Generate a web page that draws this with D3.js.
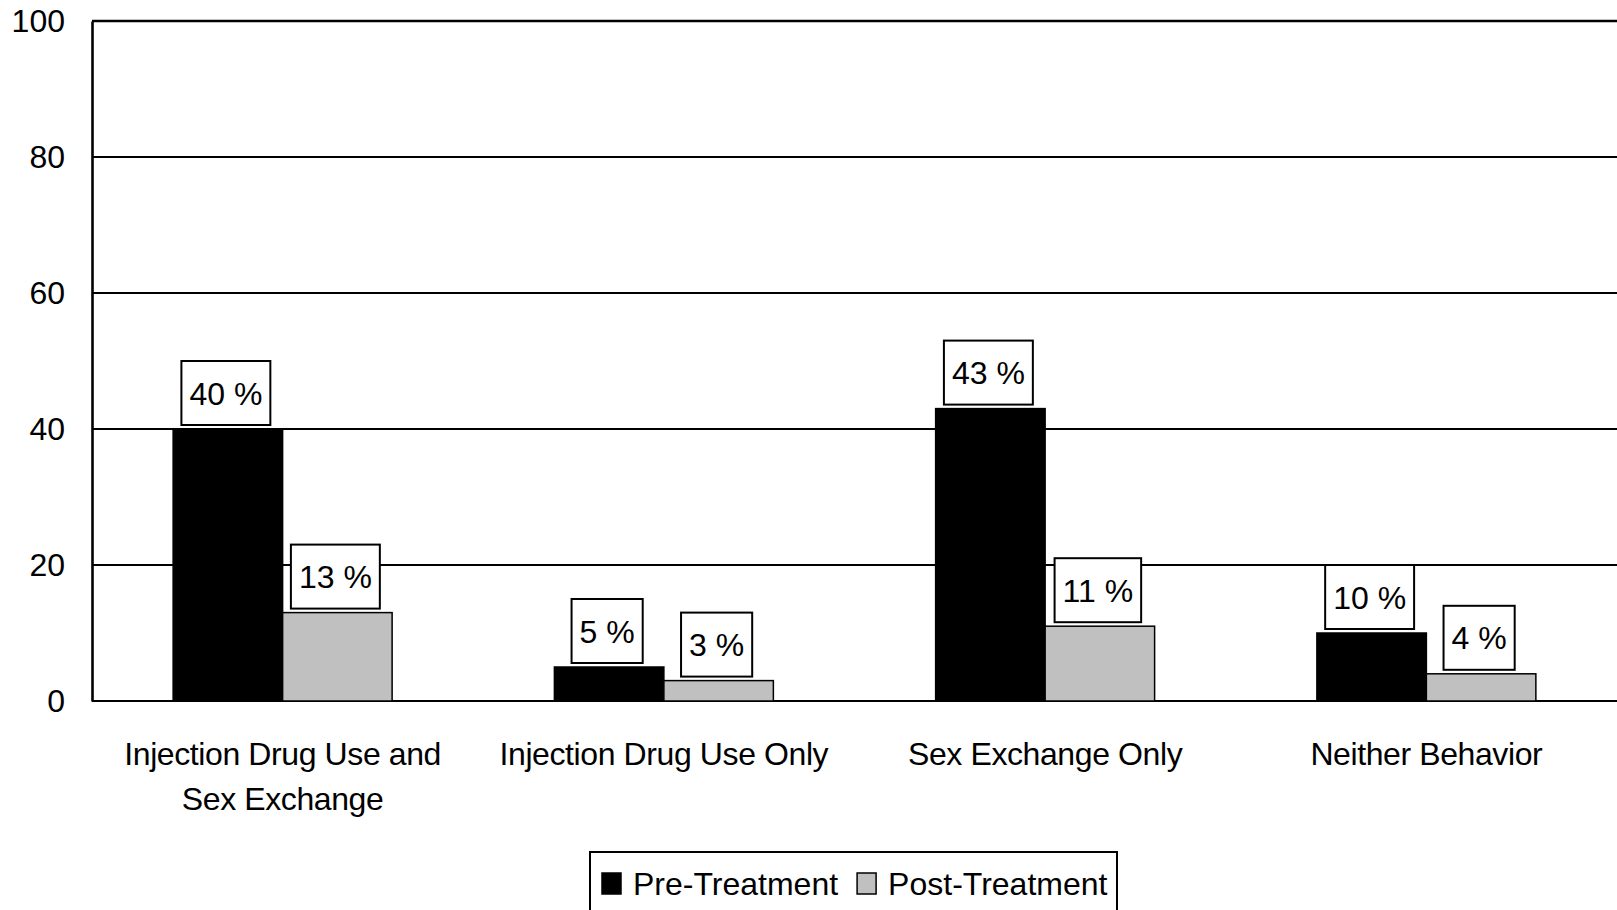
<!DOCTYPE html>
<html>
<head>
<meta charset="utf-8">
<script src="https://cdnjs.cloudflare.com/ajax/libs/d3/7.8.5/d3.min.js"></script>
<style>
  body { margin: 0; background: #fff; }
  text { font-family: "Liberation Sans", Arial, sans-serif; fill: #000; }
</style>
</head>
<body>
<div id="chart"></div>
<script>
// chart data
var categories = [
    ["Injection Drug Use and", "Sex Exchange"],
    ["Injection Drug Use Only"],
    ["Sex Exchange Only"],
    ["Neither Behavior"]
];
var seriesNames = ["Pre-Treatment", "Post-Treatment"];
var preValues = [40, 5, 43, 10];
var postValues = [13, 3, 11, 4];
var yTicks = [0, 20, 40, 60, 80, 100];

var colors = ["#000000", "#c0c0c0"];

var width = 1617, height = 910;
var margin = { left: 92, right: 0, top: 21, bottom: 209 };

var svg = d3.select("#chart")
    .append("svg")
    .attr("width", width)
    .attr("height", height);

var x0 = d3.scaleBand()
    .domain(d3.range(categories.length))
    .range([margin.left, width - margin.right])
    .padding(0);

var x1 = d3.scaleBand()
    .domain(seriesNames)
    .range([0, x0.bandwidth()])
    .paddingInner(0)
    .paddingOuter(0.741);

var y = d3.scaleLinear()
    .domain([0, 100])
    .range([height - margin.bottom, margin.top]);

// gridlines
svg.append("g")
    .selectAll("line")
    .data(yTicks)
    .enter().append("line")
    .attr("x1", margin.left)
    .attr("x2", width)
    .attr("y1", d => y(d))
    .attr("y2", d => y(d))
    .attr("stroke", "#000")
    .attr("stroke-width", d => d == 100 ? 2.6 : 2);

// y axis
var yAxis = svg.append("g")
    .attr("transform", "translate(" + margin.left + ",0)")
    .call(d3.axisLeft(y).tickValues(yTicks).tickSize(0).tickPadding(27));
yAxis.select(".domain").attr("stroke", "#000").attr("stroke-width", 2.6);
yAxis.selectAll("text")
    .style("font-family", "Liberation Sans, Arial, sans-serif")
    .style("font-size", "32px")
    .attr("fill", "#000");

// bars
var data = categories.map((c, i) => ({ i: i, values: [preValues[i], postValues[i]] }));

var groups = svg.append("g")
    .selectAll("g")
    .data(data)
    .enter().append("g")
    .attr("transform", d => "translate(" + x0(d.i) + ",0)");

var bars = groups.selectAll("g.bar")
    .data(d => d.values.map((v, k) => ({ name: seriesNames[k], value: v, k: k })))
    .enter().append("g")
    .attr("class", "bar");

bars.append("rect")
    .attr("x", d => x1(d.name))
    .attr("y", d => y(d.value))
    .attr("width", x1.bandwidth())
    .attr("height", d => y(0) - y(d.value))
    .attr("fill", d => colors[d.k])
    .attr("stroke", "#000")
    .attr("stroke-width", 1.5);

// value labels with boxes
bars.each(function(d) {
    var g = d3.select(this);
    var cx = x1(d.name) + x1.bandwidth() / 2 - 2;
    var boxBottom = y(d.value) - 4;
    var boxH = 64;
    var t = g.append("text")
        .attr("x", cx)
        .attr("y", boxBottom - boxH / 2 + 11.5)
        .attr("text-anchor", "middle")
        .style("font-size", "32px")
        .text(d.value + " %");
    var w = t.node().getComputedTextLength() + 16;
    g.insert("rect", "text")
        .attr("x", cx - w / 2)
        .attr("y", boxBottom - boxH)
        .attr("width", w)
        .attr("height", boxH)
        .attr("fill", "#fff")
        .attr("stroke", "#000")
        .attr("stroke-width", 2);
});

// category labels
var labels = svg.append("g")
    .selectAll("text")
    .data(categories)
    .enter().append("text")
    .attr("x", (d, i) => x0(i) + x0.bandwidth() / 2)
    .attr("y", 765)
    .attr("text-anchor", "middle")
    .style("font-size", "32px")
    .style("letter-spacing", "-0.4px");
labels.selectAll("tspan")
    .data(d => d)
    .enter().append("tspan")
    .attr("x", function() { return d3.select(this.parentNode).attr("x"); })
    .attr("dy", (d, i) => i == 0 ? 0 : 45)
    .text(d => d);

// legend
var legend = svg.append("g");
legend.append("rect")
    .attr("x", 590)
    .attr("y", 852)
    .attr("width", 527)
    .attr("height", 80)
    .attr("fill", "#fff")
    .attr("stroke", "#000")
    .attr("stroke-width", 2);

var lx = 602;
seriesNames.forEach(function(name, k) {
    legend.append("rect")
        .attr("x", lx)
        .attr("y", 873)
        .attr("width", 19)
        .attr("height", 21)
        .attr("fill", colors[k])
        .attr("stroke", "#000")
        .attr("stroke-width", 1.5);
    var t = legend.append("text")
        .attr("x", lx + 31)
        .attr("y", 895)
        .style("font-size", "32px")
        .text(name);
    lx = lx + 31 + t.node().getComputedTextLength() + 19;
});
</script>
</body>
</html>
